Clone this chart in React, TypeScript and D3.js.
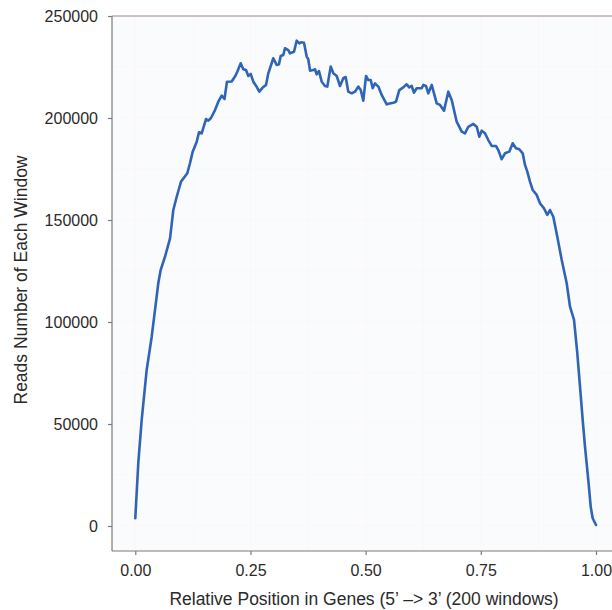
import React, { useEffect, useRef } from 'react';
import * as d3 from 'd3';

// relative position of each read-off point along the gene body (5' -> 3')
const positions = [
  0.0, 0.0065, 0.0139, 0.0247, 0.0356, 0.0428, 0.0499, 0.0551, 0.0645, 0.0754,
  0.0825, 0.0899, 0.0992, 0.1129, 0.1187, 0.1246, 0.1333, 0.1383, 0.1441, 0.1535,
  0.1585, 0.1643, 0.173, 0.1802, 0.1875, 0.1936, 0.199, 0.2092, 0.2164, 0.2214,
  0.2288, 0.2344, 0.2403, 0.2453, 0.2505, 0.2561, 0.2635, 0.2692, 0.2765, 0.2837,
  0.2887, 0.2995, 0.3069, 0.3119, 0.3156, 0.3212, 0.3249, 0.3321, 0.3358, 0.3445,
  0.3503, 0.356, 0.3597, 0.3662, 0.372, 0.3755, 0.3792, 0.3864, 0.3901, 0.3937,
  0.3987, 0.4046, 0.4118, 0.4168, 0.4241, 0.4298, 0.4372, 0.4443, 0.4515, 0.4567,
  0.4623, 0.4697, 0.4769, 0.484, 0.4893, 0.4949, 0.5008, 0.5058, 0.511, 0.5153,
  0.5203, 0.5275, 0.5348, 0.5457, 0.5544, 0.56, 0.5659, 0.573, 0.5817, 0.5891,
  0.5947, 0.5999, 0.605, 0.6108, 0.6217, 0.6251, 0.631, 0.636, 0.6434, 0.6484,
  0.6542, 0.6614, 0.6701, 0.6794, 0.6868, 0.6976, 0.7085, 0.7157, 0.7228, 0.7337,
  0.7411, 0.7467, 0.7519, 0.7591, 0.7662, 0.7736, 0.7829, 0.7879, 0.7953, 0.8025,
  0.8118, 0.8192, 0.8263, 0.8335, 0.8409, 0.8459, 0.8509, 0.8567, 0.8626, 0.8713,
  0.8784, 0.8871, 0.8943, 0.9001, 0.9073, 0.916, 0.9256, 0.9364, 0.9436, 0.9523,
  0.9594, 0.9653, 0.9711, 0.9761, 0.9833, 0.9885, 0.9928, 1.0,
];

// reads number of each window
const reads = [
  3800, 30900, 52000, 76500, 92800, 105900, 119000, 125500, 132000, 141000,
  154900, 161400, 168800, 172900, 177800, 183500, 188400, 193000, 192500, 199500,
  198700, 200000, 203900, 208000, 211000, 209300, 217800, 217900, 220300, 222700,
  226800, 223900, 223500, 220600, 221600, 217800, 215300, 212900, 214900, 216200,
  221900, 229300, 226000, 226300, 230400, 230900, 234200, 233300, 231700, 232500,
  237900, 236600, 237100, 236900, 230100, 228800, 223200, 223500, 223900, 221400,
  223000, 217800, 215700, 215400, 225200, 221900, 220600, 215700, 219500, 220100,
  212900, 212100, 212900, 215400, 213700, 208500, 220600, 218600, 218600, 214600,
  217000, 215400, 211300, 206700, 207200, 207500, 208000, 213700, 215000, 216500,
  215000, 215700, 212400, 214600, 214600, 216200, 215700, 212100, 216200, 212100,
  207200, 206400, 203600, 212900, 208800, 198200, 193300, 192500, 195700, 197100,
  195700, 190800, 193800, 192500, 189200, 186300, 186300, 184300, 179800, 182700,
  183500, 187600, 185200, 184700, 182700, 177000, 173700, 168800, 164700, 162300,
  158200, 155700, 152500, 154900, 151600, 141800, 130400, 119000, 107500, 101000,
  84700, 68300, 52000, 38900, 22500, 9500, 3800, 500,
];

const xTicks = [0, 0.25, 0.5, 0.75, 1.0];
const yTicks = [0, 50000, 100000, 150000, 200000, 250000];
const xMinor = [0.125, 0.375, 0.625, 0.875];
const yMinor = [25000, 75000, 125000, 175000, 225000];

const W = 612;
const H = 610;

const App = () => {
  const ref = useRef(null);

  useEffect(() => {
    const svg = d3.select(ref.current);
    svg.selectAll('*').remove();

    const panel = { left: 112, top: 16, right: 640, bottom: 551 };

    const x = d3.scaleLinear().domain([0, 1]).range([135.3, 596]);
    const y = d3.scaleLinear().domain([0, 250000]).range([526, 16]);

    // panel background
    svg.append('rect')
      .attr('x', panel.left)
      .attr('y', panel.top)
      .attr('width', panel.right - panel.left)
      .attr('height', panel.bottom - panel.top)
      .attr('fill', '#fafbfd');

    // faint grid
    const grid = svg.append('g');
    grid.selectAll('.gy')
      .data([...yTicks, ...yMinor])
      .enter()
      .append('line')
      .attr('x1', panel.left)
      .attr('x2', panel.right)
      .attr('y1', (d) => y(d))
      .attr('y2', (d) => y(d))
      .attr('stroke', '#fdf7f3')
      .attr('stroke-width', 1);
    grid.selectAll('.gx')
      .data([...xTicks, ...xMinor])
      .enter()
      .append('line')
      .attr('y1', panel.top)
      .attr('y2', panel.bottom)
      .attr('x1', (d) => x(d))
      .attr('x2', (d) => x(d))
      .attr('stroke', '#fdf7f3')
      .attr('stroke-width', 1);

    // top border
    svg.append('line')
      .attr('x1', panel.left)
      .attr('x2', W)
      .attr('y1', panel.top)
      .attr('y2', panel.top)
      .attr('stroke', '#9c8a82')
      .attr('stroke-width', 1.2);

    // the coverage line
    const line = d3.line()
      .x((d) => x(d[0]))
      .y((d) => y(d[1]));

    svg.append('path')
      .datum(positions.map((p, i) => [p, reads[i]]))
      .attr('d', line)
      .attr('fill', 'none')
      .attr('stroke', '#2f64b6')
      .attr('stroke-width', 2.6)
      .attr('stroke-linejoin', 'round')
      .attr('stroke-linecap', 'round');

    // axes
    const xAxis = svg.append('g')
      .attr('transform', `translate(0, ${panel.bottom})`)
      .call(d3.axisBottom(x).tickValues(xTicks).tickFormat(d3.format('.2f')).tickSize(4).tickPadding(10));
    xAxis.select('.domain').remove();
    xAxis.append('line')
      .attr('x1', panel.left)
      .attr('x2', W)
      .attr('stroke', '#7a7a7a')
      .attr('stroke-width', 1.2);

    const yAxis = svg.append('g')
      .attr('transform', `translate(${panel.left}, 0)`)
      .call(d3.axisLeft(y).tickValues(yTicks).tickFormat(d3.format('d')).tickSize(4).tickPadding(10));
    yAxis.select('.domain').remove();
    yAxis.append('line')
      .attr('y1', panel.top)
      .attr('y2', panel.bottom)
      .attr('stroke', '#7a7a7a')
      .attr('stroke-width', 1.2);

    [xAxis, yAxis].forEach((g) => {
      g.selectAll('.tick line').attr('stroke', '#7a7a7a').attr('stroke-width', 1.2);
      g.selectAll('.tick text')
        .attr('fill', '#2a2a2a')
        .style('font-family', '"Liberation Sans", Arial, sans-serif')
        .style('font-size', '16px');
    });

    // axis titles
    svg.append('text')
      .attr('x', 364)
      .attr('y', 605)
      .attr('text-anchor', 'middle')
      .attr('fill', '#2a2a2a')
      .style('font-family', '"Liberation Sans", Arial, sans-serif')
      .style('font-size', '17.5px')
      .text('Relative Position in Genes (5\u2019 \u2013> 3\u2019 (200 windows)');

    svg.append('text')
      .attr('transform', 'translate(27, 280) rotate(-90)')
      .attr('text-anchor', 'middle')
      .attr('fill', '#2a2a2a')
      .style('font-family', '"Liberation Sans", Arial, sans-serif')
      .style('font-size', '17.5px')
      .text('Reads Number of Each Window');
  }, []);

  return (
    <svg
      ref={ref}
      width={W}
      height={H}
      style={{ position: 'absolute', left: 0, top: 0, background: '#ffffff' }}
    />
  );
};

export default App;
